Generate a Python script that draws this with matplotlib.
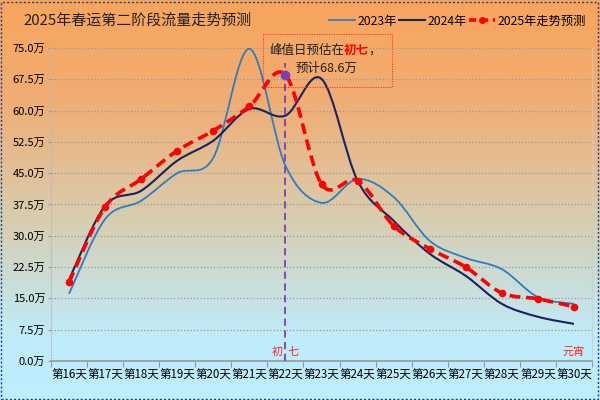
import numpy as np
import matplotlib
matplotlib.use("Agg")
import matplotlib.pyplot as plt
from matplotlib.path import Path
from matplotlib.patches import PathPatch, Rectangle
from matplotlib.colors import LinearSegmentedColormap

plt.rcParams['font.family'] = ['Noto Sans CJK SC', 'DejaVu Sans']

# 数据（万人次）
days = ['第16天', '第17天', '第18天', '第19天', '第20天', '第21天', '第22天', '第23天',
        '第24天', '第25天', '第26天', '第27天', '第28天', '第29天', '第30天']
y2023 = [16.1, 34.0, 38.4, 45.0, 48.7, 74.8, 46.8, 37.9, 43.6, 39.3, 28.8, 24.7, 22.0, 15.3, 13.7]
y2024 = [19.5, 37.2, 40.8, 48.0, 52.8, 60.4, 58.8, 67.6, 43.2, 33.6, 25.7, 20.4, 13.7, 10.6, 8.9]
y2025 = [18.9, 36.9, 43.6, 50.4, 55.2, 61.0, 68.6, 42.4, 43.2, 32.4, 26.9, 22.5, 16.3, 14.9, 13.0]
yticks = [0, 7.5, 15, 22.5, 30, 37.5, 45, 52.5, 60, 67.5, 75]
peak_idx = 6


def smooth_path(xs, ys):
    # Catmull-Rom -> 贝塞尔，类似 Excel 的平滑线
    pts = np.column_stack([xs, ys]).astype(float)
    n = len(pts)
    verts = [pts[0]]
    codes = [Path.MOVETO]
    for i in range(n - 1):
        p0 = pts[max(i - 1, 0)]
        p1 = pts[i]
        p2 = pts[i + 1]
        p3 = pts[min(i + 2, n - 1)]
        c1 = p1 + (p2 - p0) / 6.0
        c2 = p2 - (p3 - p1) / 6.0
        verts += [c1, c2, p2]
        codes += [Path.CURVE4] * 3
    return Path(verts, codes)


fig = plt.figure(figsize=(6, 4), dpi=100)

# 渐变背景
bg = fig.add_axes([0, 0, 1, 1], zorder=-10)
cmap = LinearSegmentedColormap.from_list('bg', [(0.0, '#f8a55c'), (0.25, '#f0ad74'),
                                                (0.55, '#d8cdb0'), (0.85, '#c0ecfb'),
                                                (1.0, '#bdeeff')])
grad = np.linspace(0, 1, 256).reshape(-1, 1)
bg.imshow(grad, aspect='auto', cmap=cmap, extent=[0, 1, 0, 1], origin='upper')
bg.set_xlim(0, 1)
bg.set_ylim(0, 1)
bg.axis('off')
bg.add_patch(Rectangle((0.002, 0.003), 0.995, 0.993, fill=False, ec='#1f3f8f',
                       lw=1.0, ls=(0, (1.5, 1.5))))

ax = fig.add_axes([51 / 600, 39 / 400, 541 / 600, 313 / 400])
ax.set_facecolor('none')
x = np.arange(len(days))
ax.set_xlim(-0.5, len(days) - 0.5)
ax.set_ylim(0, 75)

ax.add_patch(PathPatch(smooth_path(x, y2023), fill=False, ec='#2b7fc0', lw=1.3, zorder=3))
ax.add_patch(PathPatch(smooth_path(x, y2024), fill=False, ec='#16245f', lw=1.5, zorder=4))
ax.add_patch(PathPatch(smooth_path(x, y2025), fill=False, ec='#ff0000', lw=2.6,
                       ls=(0, (3, 1.6)), zorder=5))
ax.plot(x, y2025, ls='none', marker='o', ms=4.5, color='#ff0000', zorder=5)

# 图例用的句柄
h1, = ax.plot([], [], color='#2b7fc0', lw=1.3)
h2, = ax.plot([], [], color='#16245f', lw=1.5)
h3, = ax.plot([], [], color='#ff0000', lw=2.6, ls=(0, (2, 1.3)), marker='o', ms=4)
fig.legend([h1, h2, h3], ['2023年', '2024年', '2025年走势预测'], loc='center right',
           bbox_to_anchor=(0.995, 0.947), ncol=3, frameon=False, fontsize=8.8,
           handlelength=2.1, handletextpad=0.25, columnspacing=0.15)

# 峰值线
ax.plot([peak_idx, peak_idx], [0, 71.5], color='#7b3fb5', lw=1.3, ls=(0, (4, 2.5)), zorder=6)
ax.plot(peak_idx, y2025[peak_idx], 'o', color='#7b3fb5', ms=6, zorder=7)

ax.set_yticks(yticks)
ax.set_yticklabels([f'{v:.1f}万' for v in yticks], fontsize=8)
ax.set_xticks(np.arange(len(days) + 1) - 0.5)
ax.set_xticklabels([])
ax.set_xticks(x, minor=True)
ax.set_xticklabels(days, minor=True, fontsize=8.3)
ax.tick_params(axis='x', which='major', length=4, color='#999999', direction='out')
ax.tick_params(axis='x', which='minor', length=0, pad=5)
ax.tick_params(axis='y', length=2, color='#999999', pad=2)
ax.grid(axis='y', color='#999999', ls=':', lw=0.9)
ax.spines['top'].set_visible(False)
ax.spines['left'].set_color('#bbbbbb')
ax.spines['left'].set_linestyle(':')
ax.spines['right'].set_color('#cccccc')
ax.spines['right'].set_linestyle(':')
ax.spines['bottom'].set_color('#999999')
ax.spines['bottom'].set_linewidth(1.2)

ax.text(peak_idx, 2.2, '初  七', color='#ff2020', fontsize=8, ha='center', va='center')
ax.text(len(days) - 1, 2.2, '元宵', color='#ff2020', fontsize=8, ha='center', va='center')

fig.text(23 / 600, 1 - 21 / 400, '2025年春运第二阶段流量走势预测', fontsize=10.8,
         ha='left', va='center', color='#222222')

# 注释框
fig.patches.append(Rectangle((263 / 600, 1 - 87 / 400), 129 / 600, 53 / 400, fill=False,
                             ec='#ff3030', lw=0.8, ls=(0, (1, 1.2)),
                             transform=fig.transFigure, figure=fig))
renderer = fig.canvas.get_renderer()
parts = [('峰值日预估在', '#222222', 'normal'), ('初七', '#ff0000', 'bold'), ('，', '#222222', 'normal')]
texts = []
widths = []
for s, c, w in parts:
    t = fig.text(0, 1 - 50 / 400, s, color=c, fontsize=9, fontweight=w, va='center', ha='left')
    texts.append(t)
    widths.append(t.get_window_extent(renderer).width)
xpos = 325 - sum(widths) / 2
for t, w in zip(texts, widths):
    t.set_x(xpos / 600)
    xpos += w
fig.text(327 / 600, 1 - 68 / 400, '预计68.6万', fontsize=9, ha='center', va='center',
         color='#222222')

fig.savefig('out.png', dpi=100)
